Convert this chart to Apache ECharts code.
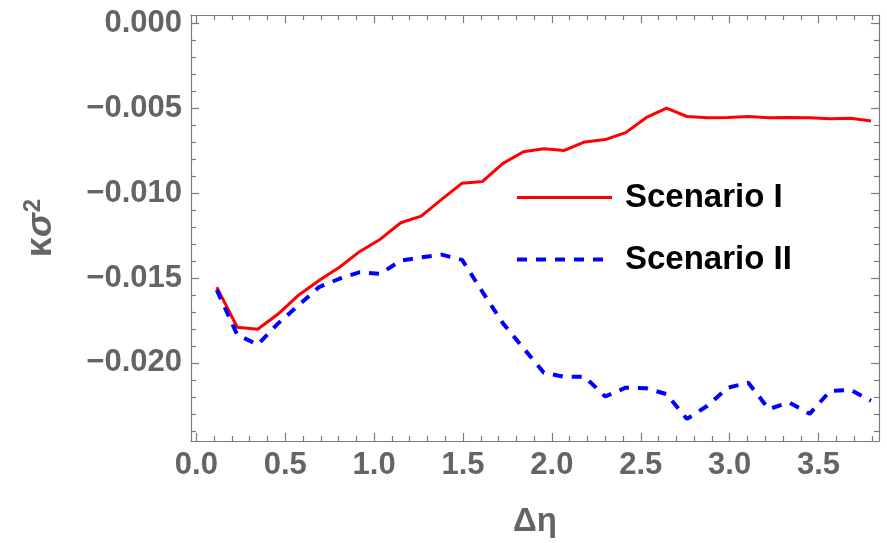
<!DOCTYPE html>
<html>
<head>
<meta charset="utf-8">
<script src="https://cdn.jsdelivr.net/npm/echarts@6/dist/echarts.min.js"></script>
<style>
  html, body { margin: 0; padding: 0; background: #fff; }
  #chart { width: 887px; height: 543px; }
</style>
</head>
<body>
<div id="chart"></div>
<script>
// Pseudorapidity gap values
const eta = [0.115, 0.23, 0.345, 0.46, 0.575, 0.69, 0.805, 0.92, 1.035, 1.15, 1.265,
  1.38, 1.495, 1.61, 1.725, 1.84, 1.955, 2.07, 2.185, 2.3, 2.415, 2.53, 2.645, 2.76,
  2.875, 2.99, 3.105, 3.22, 3.335, 3.45, 3.565, 3.68, 3.795];

// κσ² for each scenario
const scenarioI = [-0.01553, -0.0179, -0.01802, -0.01712, -0.01601, -0.01514, -0.01436,
  -0.01343, -0.01271, -0.01174, -0.01135, -0.01036, -0.00941, -0.00931, -0.00824,
  -0.00756, -0.00738, -0.00748, -0.00698, -0.00684, -0.00643, -0.00555, -0.00499,
  -0.00548, -0.00556, -0.00554, -0.00548, -0.00556, -0.00554, -0.00556, -0.00562,
  -0.00558, -0.00575];
const scenarioII = [-0.0157, -0.01834, -0.01893, -0.01767, -0.0166, -0.01553, -0.01504,
  -0.01465, -0.01475, -0.01397, -0.01378, -0.01362, -0.01393, -0.01582, -0.01767,
  -0.01913, -0.02058, -0.02082, -0.02082, -0.02198, -0.02146, -0.02149, -0.02184,
  -0.0233, -0.02252, -0.02146, -0.02117, -0.02272, -0.02233, -0.023, -0.02165,
  -0.02159, -0.02223];

// Tick positions
const xMajorTicks = [0, 0.5, 1.0, 1.5, 2.0, 2.5, 3.0, 3.5];
const xMinorTicks = [0.1, 0.2, 0.3, 0.4, 0.6, 0.7, 0.8, 0.9, 1.1, 1.2, 1.3, 1.4, 1.6, 1.7,
  1.8, 1.9, 2.1, 2.2, 2.3, 2.4, 2.6, 2.7, 2.8, 2.9, 3.1, 3.2, 3.3, 3.4, 3.6, 3.7, 3.8];
const yMajorTicks = [0, -0.005, -0.01, -0.015, -0.02];
const yMinorTicks = [-0.001, -0.002, -0.003, -0.004, -0.006, -0.007, -0.008, -0.009,
  -0.011, -0.012, -0.013, -0.014, -0.016, -0.017, -0.018, -0.019, -0.021, -0.022,
  -0.023, -0.024];

const X_MIN = -0.03, X_MAX = 3.84, Y_MIN = -0.0246, Y_MAX = 0.0005;
const frameColor = '#7a7a7a';
const labelColor = '#646464';
const font = 'Liberation Sans, Arial, sans-serif';

function fmtY(v) {
  const s = Math.abs(v).toFixed(3);
  return v < 0 ? '\u2212' + s : s;
}

function xAxisDef(position, ticks, len, showLine, withLabels) {
  return {
    type: 'value', position: position, min: X_MIN, max: X_MAX,
    axisLine: { show: showLine, onZero: false, lineStyle: { color: frameColor, width: 1.2 } },
    axisTick: { show: true, inside: true, length: len, customValues: ticks,
      lineStyle: { color: frameColor, width: 1.2 } },
    axisLabel: withLabels ? {
      show: true, customValues: ticks, margin: 9,
      formatter: v => v.toFixed(1),
      color: labelColor, fontSize: 31, fontWeight: 'bold', fontFamily: font
    } : { show: false },
    splitLine: { show: false }
  };
}

function yAxisDef(position, ticks, len, showLine, withLabels) {
  return {
    type: 'value', position: position, min: Y_MIN, max: Y_MAX,
    axisLine: { show: showLine, onZero: false, lineStyle: { color: frameColor, width: 1.2 } },
    axisTick: { show: true, inside: true, length: len, customValues: ticks,
      lineStyle: { color: frameColor, width: 1.2 } },
    axisLabel: withLabels ? {
      show: true, customValues: ticks, margin: 9,
      formatter: fmtY,
      color: labelColor, fontSize: 31, fontWeight: 'bold', fontFamily: font
    } : { show: false },
    splitLine: { show: false }
  };
}

const xAxes = [
  xAxisDef('bottom', xMajorTicks, 8, true, true),
  xAxisDef('bottom', xMinorTicks, 5, false, false),
  xAxisDef('top', xMajorTicks, 8, true, false),
  xAxisDef('top', xMinorTicks, 5, false, false)
];
Object.assign(xAxes[0], {
  name: 'Δη', nameLocation: 'middle', nameGap: 64,
  nameTextStyle: { color: labelColor, fontSize: 33, fontWeight: 'bold', fontFamily: font }
});

const yAxes = [
  yAxisDef('left', yMajorTicks, 8, true, true),
  yAxisDef('left', yMinorTicks, 5, false, false),
  yAxisDef('right', yMajorTicks, 8, true, false),
  yAxisDef('right', yMinorTicks, 5, false, false)
];
Object.assign(yAxes[0], {
  name: '{k|κ}{s|σ}{p|2}', nameLocation: 'middle', nameGap: 130,
  nameTextStyle: {
    color: labelColor, fontWeight: 'bold', fontFamily: font,
    rich: {
      k: { fontSize: 36, fontWeight: 'bold', color: labelColor, fontFamily: font },
      s: { fontSize: 36, fontWeight: 'bold', fontStyle: 'italic', color: labelColor, fontFamily: font },
      p: { fontSize: 24, fontWeight: 'bold', color: labelColor, fontFamily: font,
        padding: [0, 0, 16, 1] }
    }
  }
});

const chart = echarts.init(document.getElementById('chart'), null, { renderer: 'canvas' });
chart.setOption({
  animation: false,
  backgroundColor: '#fff',
  grid: { left: 191, right: 8, top: 15, bottom: 97, containLabel: false },
  xAxis: xAxes,
  yAxis: yAxes,
  legend: {
    orient: 'vertical', left: 510, top: 176,
    itemWidth: 95, itemHeight: 12, itemGap: 29,
    itemStyle: { opacity: 0 },
    lineStyle: { width: 'inherit', type: 'inherit' },
    textStyle: { color: '#000', fontSize: 33, fontWeight: 'bold', fontFamily: font,
      padding: [0, 0, 0, 8] },
    data: ['Scenario I', 'Scenario II']
  },
  series: [
    {
      name: 'Scenario I', type: 'line', symbol: 'none',
      data: eta.map((x, i) => [x, scenarioI[i]]),
      lineStyle: { color: '#ff0000', width: 3 },
      itemStyle: { color: '#ff0000' }
    },
    {
      name: 'Scenario II', type: 'line', symbol: 'none',
      data: eta.map((x, i) => [x, scenarioII[i]]),
      lineStyle: { color: '#0000ff', width: 4, type: [10, 9] },
      itemStyle: { color: '#0000ff' }
    }
  ]
});
</script>
</body>
</html>
